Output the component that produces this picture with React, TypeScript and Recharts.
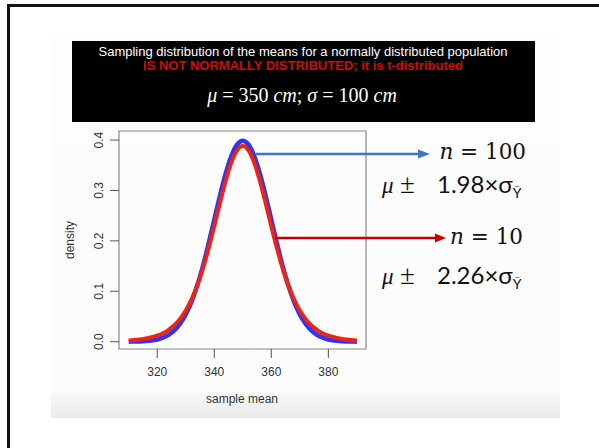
import { LineChart, Line, XAxis, YAxis, ReferenceArea } from "recharts";

// sample mean grid (310..390)
const sampleMeans = [
  310, 312, 314, 316, 318, 320, 322, 324, 326, 328, 330, 332, 334, 336,
  338, 340, 342, 344, 346, 348, 350, 352, 354, 356, 358, 360, 362, 364,
  366, 368, 370, 372, 374, 376, 378, 380, 382, 384, 386, 388, 390,
];

// n = 100 curve (blue) — density
const densityN100 = [
  0.0001, 0.0003, 0.0006, 0.0012, 0.0024, 0.0044, 0.0079, 0.0136, 0.0224,
  0.0355, 0.054, 0.079, 0.1109, 0.1497, 0.1942, 0.242, 0.2897, 0.3332,
  0.3683, 0.391, 0.3989, 0.391, 0.3683, 0.3332, 0.2897, 0.242, 0.1942,
  0.1497, 0.1109, 0.079, 0.054, 0.0355, 0.0224, 0.0136, 0.0079, 0.0044,
  0.0024, 0.0012, 0.0006, 0.0003, 0.0001,
];

// n = 10 curve (red), heavier tails, lower peak
const densityN10 = [
  0.0023, 0.0032, 0.0045, 0.0062, 0.0087, 0.0121, 0.0169, 0.0236, 0.0327,
  0.0451, 0.0617, 0.0834, 0.111, 0.1449, 0.1847, 0.2291, 0.2752, 0.3189,
  0.3553, 0.3795, 0.388, 0.3795, 0.3553, 0.3189, 0.2752, 0.2291, 0.1847,
  0.1449, 0.111, 0.0834, 0.0617, 0.0451, 0.0327, 0.0236, 0.0169, 0.0121,
  0.0087, 0.0062, 0.0045, 0.0032, 0.0023,
];

const xTicks = [320, 340, 360, 380];
const yTicks = [0, 0.1, 0.2, 0.3, 0.4];

const X_DOMAIN: [number, number] = [306.6, 393.2];
const Y_DOMAIN: [number, number] = [-0.0145, 0.418];

const SANS = "'Liberation Sans', Arial, sans-serif";
const SERIF = "'Liberation Serif', 'Times New Roman', serif";
const MATH = "'DejaVu Serif', serif";
const CALIBRI = "Lato, 'Open Sans', sans-serif";

const data = sampleMeans.map((x, i) => ({
  x,
  n100: densityN100[i],
  n10: densityN10[i],
}));

// R draws y tick labels parallel to the axis
function RotatedTick(props: any) {
  const { x, y, payload } = props;
  const cx = x - 7;
  return (
    <text
      x={cx}
      y={y}
      transform={`rotate(-90 ${cx} ${y})`}
      textAnchor="middle"
      dominantBaseline="central"
      fontFamily={SANS}
      fontSize={12}
      fill="#333"
    >
      {Number(payload.value).toFixed(1)}
    </text>
  );
}

// "μ ±  k×σ_Ȳ" interval label
function Interval({ y, k }: { y: number; k: string }) {
  return (
    <g fill="#111">
      <text x={382} y={y} fontFamily={SERIF} fontStyle="italic" fontSize={23}>
        μ
      </text>
      <text x={400} y={y} fontFamily={SERIF} fontSize={27}>
        ±
      </text>
      <text x={437} y={y} fontFamily={CALIBRI} fontSize={24}>
        {k}×σ
        <tspan fontSize={14} dy={5}>
          Ȳ
        </tspan>
      </text>
    </g>
  );
}

function Overlay() {
  return (
    <svg
      width={599}
      height={448}
      style={{ position: "absolute", left: 0, top: 0, pointerEvents: "none" }}
    >
      {/* header text */}
      <text x={303} y={55.5} textAnchor="middle" fontFamily={SANS} fontSize={13} fill="#fff">
        Sampling distribution of the means for a normally distributed population
      </text>
      <text x={303} y={69.5} textAnchor="middle" fontFamily={SANS} fontSize={13} fontWeight="bold" fill="#d00a0a">
        IS NOT NORMALLY DISTRIBUTED; it is t-distributed
      </text>
      <text x={302} y={102} textAnchor="middle" fontFamily={SERIF} fontSize={20} fill="#fff">
        <tspan fontStyle="italic">μ</tspan> = 350 <tspan fontStyle="italic">cm</tspan>;{" "}
        <tspan fontStyle="italic">σ</tspan> = 100 <tspan fontStyle="italic">cm</tspan>
      </text>

      {/* axis titles */}
      <text
        x={70}
        y={240}
        transform="rotate(-90 70 240)"
        textAnchor="middle"
        dominantBaseline="central"
        fontFamily={SANS}
        fontSize={12}
        fill="#333"
      >
        density
      </text>
      <text x={242} y={403} textAnchor="middle" fontFamily={SANS} fontSize={12} fill="#333">
        sample mean
      </text>

      {/* arrows */}
      <line x1={256} y1={154} x2={420} y2={154} stroke="#4472c4" strokeWidth={2.5} />
      <polygon points="418,149.5 430,154 418,158.5" fill="#4472c4" />
      <line x1={275} y1={238} x2={437} y2={238} stroke="#c00000" strokeWidth={2.5} />
      <polygon points="435,233.5 446,238 435,242.5" fill="#c00000" />

      {/* annotations */}
      <text x={526} y={158.5} textAnchor="end" fontFamily={MATH} fontSize={21.5} fill="#111">
        <tspan fontStyle="italic">n</tspan> = 100
      </text>
      <Interval y={193} k="1.98" />
      <text x={523} y={244} textAnchor="end" fontFamily={MATH} fontSize={21.5} fill="#111">
        <tspan fontStyle="italic">n</tspan> = 10
      </text>
      <Interval y={284} k="2.26" />
    </svg>
  );
}

export default function App() {
  return (
    <div
      style={{
        position: "absolute",
        left: 0,
        top: 0,
        width: 599,
        height: 448,
        overflow: "hidden",
        background: "#fff",
      }}
    >
      {/* outer frame, only left and top edges are in view */}
      <div
        style={{
          position: "absolute",
          left: 7,
          top: 4,
          width: 640,
          height: 500,
          borderLeft: "3px solid #111",
          borderTop: "3px solid #111",
        }}
      />
      {/* slide area with soft shadow at the bottom */}
      <div
        style={{
          position: "absolute",
          left: 51,
          top: 37,
          width: 509,
          height: 381,
          background:
            "linear-gradient(to bottom, #fdfdfd 0%, #fcfcfc 92%, #e9e9e9 100%)",
        }}
      />
      {/* header box */}
      <div
        style={{
          position: "absolute",
          left: 72,
          top: 41,
          width: 463,
          height: 81,
          background: "#000",
        }}
      />

      <div style={{ position: "absolute", left: 0, top: 0 }}>
        <LineChart
          width={599}
          height={448}
          data={data}
          margin={{ top: 131, right: 233, bottom: 0, left: 0 }}
        >
          <XAxis
            dataKey="x"
            type="number"
            domain={X_DOMAIN}
            ticks={xTicks}
            allowDataOverflow
            height={99}
            axisLine={false}
            tickSize={9}
            tickMargin={9}
            tickLine={{ stroke: "#555" }}
            tick={{ fontFamily: SANS, fontSize: 12, fill: "#333" }}
          />
          <YAxis
            type="number"
            domain={Y_DOMAIN}
            ticks={yTicks}
            allowDataOverflow
            width={119}
            axisLine={false}
            tickSize={9}
            tickMargin={4}
            tickLine={{ stroke: "#555" }}
            tick={<RotatedTick />}
          />
          <ReferenceArea
            x1={X_DOMAIN[0]}
            x2={X_DOMAIN[1]}
            y1={Y_DOMAIN[0]}
            y2={Y_DOMAIN[1]}
            fill="none"
            fillOpacity={0}
            stroke="#888"
            strokeWidth={1.2}
          />
          <Line
            dataKey="n100"
            type="monotone"
            stroke="#3434f0"
            strokeWidth={4.5}
            dot={false}
            isAnimationActive={false}
          />
          <Line
            dataKey="n10"
            type="monotone"
            stroke="#ec2418"
            strokeWidth={4}
            dot={false}
            isAnimationActive={false}
          />
        </LineChart>
      </div>

      <Overlay />
    </div>
  );
}
